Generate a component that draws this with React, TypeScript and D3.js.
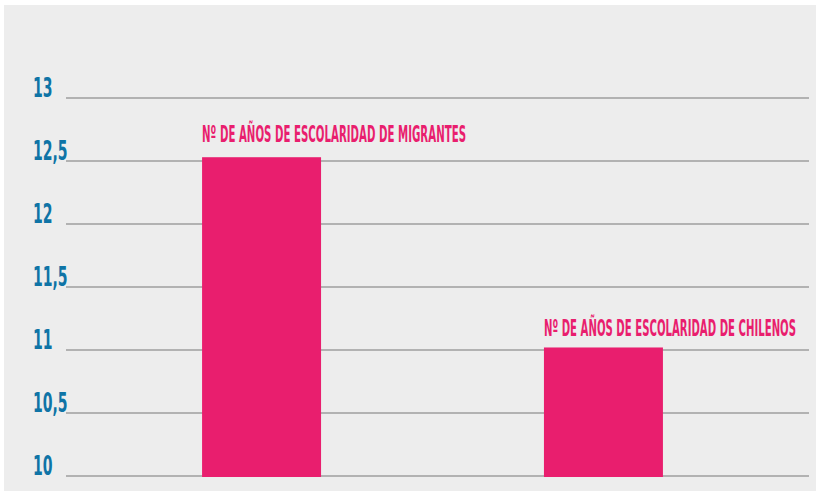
import React, { useLayoutEffect, useRef, useState } from 'react';
import * as d3 from 'd3';

const categories = ['Nº DE AÑOS DE ESCOLARIDAD DE MIGRANTES', 'Nº DE AÑOS DE ESCOLARIDAD DE CHILENOS'];
const values = [12.53, 11.02];
const yTicks = [10, 10.5, 11, 11.5, 12, 12.5, 13];

const W = 816;
const H = 491;
const margin = { top: 98, right: 7, bottom: 15, left: 66 };
const pink = '#e91e6e';
const blue = '#0f74a6';
const font = "'DejaVu Sans Condensed', 'Liberation Sans Narrow', sans-serif";

// label widths and gaps above the bars, as in the source
const labelWidth = [264, 252];
const labelGap = [15, 11];

const fmt = (v: number) => String(v).replace('.', ',');

const App: React.FC = () => {
  const labelRefs = useRef<(SVGTextElement | null)[]>([]);
  const [sx, setSx] = useState<number[]>([0.62, 0.62]);

  useLayoutEffect(() => {
    const s = labelRefs.current.map((el, i) => {
      const w = el ? el.getComputedTextLength() : 0;
      return w > 0 ? labelWidth[i] / w : 0.62;
    });
    setSx(s);
  }, []);

  const y = d3.scaleLinear().domain([10, 13]).range([H - margin.bottom, margin.top]);
  const x = d3
    .scaleBand<string>()
    .domain(categories)
    .range([margin.left, 799])
    .paddingInner(0.652)
    .paddingOuter(0.398);

  return (
    <svg
      width={W}
      height={H}
      style={{ position: 'absolute', left: 0, top: 0, display: 'block' }}
    >
      <rect x={4} y={5} width={W - 4} height={H - 5} fill="#ededed" />
      {yTicks.map((t) => (
        <g key={t}>
          <line
            x1={margin.left}
            x2={W - margin.right}
            y1={y(t)}
            y2={y(t)}
            stroke="#b2b2b2"
            strokeWidth={2}
          />
          <text
            x={0}
            y={0}
            transform={`translate(33,${y(t) - 1}) scale(0.6,1)`}
            fill={blue}
            fontFamily={font}
            fontWeight="bold"
            fontSize={26}
          >
            {fmt(t)}
          </text>
        </g>
      ))}
      {categories.map((c, i) => (
        <g key={c}>
          <rect
            x={x(c)!}
            y={y(values[i])}
            width={x.bandwidth()}
            height={y(10) - y(values[i]) + 1}
            fill={pink}
          />
          <text
            ref={(el) => {
              labelRefs.current[i] = el;
            }}
            x={0}
            y={0}
            transform={`translate(${x(c)!},${y(values[i]) - labelGap[i]}) scale(${sx[i]},1)`}
            fill={pink}
            fontFamily={font}
            fontWeight="bold"
            fontSize={23}
          >
            {c}
          </text>
        </g>
      ))}
    </svg>
  );
};

export default App;
